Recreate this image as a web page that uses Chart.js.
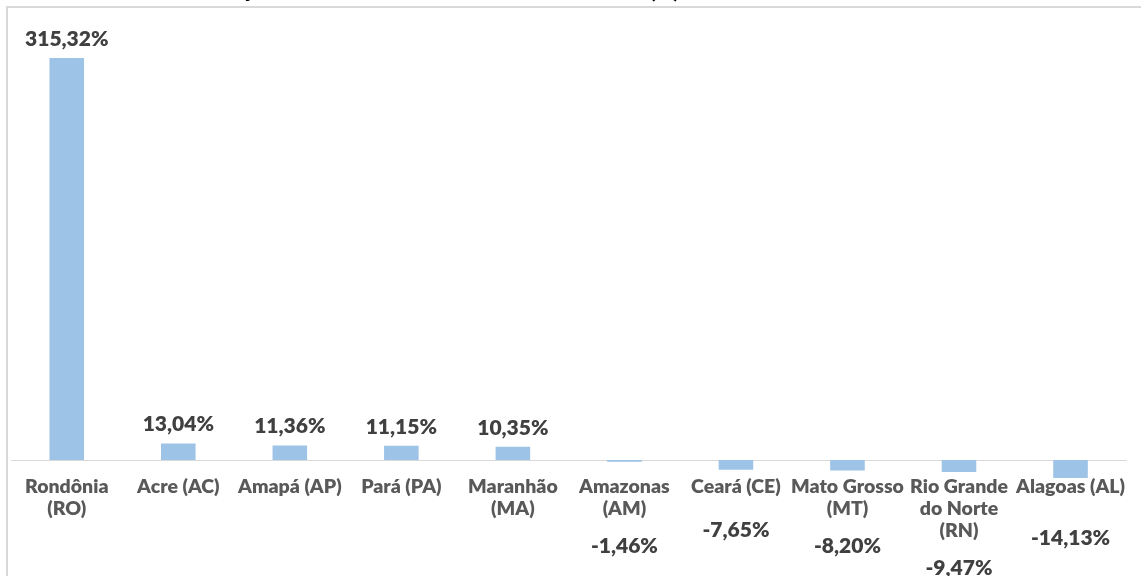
<!DOCTYPE html>
<html>
<head>
<meta charset="utf-8">
<script src="https://cdn.jsdelivr.net/npm/chart.js@4.4.1/dist/chart.umd.min.js"></script>
<style>
  html, body { margin: 0; padding: 0; background: #ffffff; overflow: hidden; }
  #wrap { position: relative; width: 1141px; height: 576px; }
</style>
</head>
<body>
<div id="wrap"><canvas id="c" width="1141" height="576"></canvas></div>
<script>
// Categories (multi-line tick labels), one entry per state
const categories = [
  ["Rondônia", "(RO)"],
  ["Acre (AC)"],
  ["Amapá (AP)"],
  ["Pará (PA)"],
  ["Maranhão", "(MA)"],
  ["Amazonas", "(AM)"],
  ["Ceará (CE)"],
  ["Mato Grosso", "(MT)"],
  ["Rio Grande", "do Norte", "(RN)"],
  ["Alagoas (AL)"]
];

// Percentage variation per state
const variation = [315.32, 13.04, 11.36, 11.15, 10.35, -1.46, -7.65, -8.20, -9.47, -14.13];

const titleText = "Variação do número de casos novos nos estados (%)";

const BAR_COLOR = "#9dc3e6";
const VALUE_COLOR = "#404040";
const LABEL_COLOR = "#595959";
const FRAME_COLOR = "#d9d9d9";
const FONT = "Lato";
const WEIGHT = "800";

const LABEL_LINE = 22;     // line height of category labels
const LABEL_FIRST = 27;    // distance from zero line to first label line centre

function fmt(v) {
  return v.toFixed(2).replace(".", ",") + "%";
}

// White background, outer frame and the title running off the top edge
const framePlugin = {
  id: "frame",
  beforeDraw(chart) {
    const ctx = chart.ctx;
    ctx.save();
    ctx.fillStyle = "#ffffff";
    ctx.fillRect(0, 0, chart.width, chart.height);
    ctx.strokeStyle = FRAME_COLOR;
    ctx.lineWidth = 2;
    ctx.beginPath();
    ctx.moveTo(7, chart.height + 2);
    ctx.lineTo(7, 7);
    ctx.lineTo(chart.width + 2, 7);
    ctx.stroke();

    ctx.font = WEIGHT + " 21px " + FONT;
    ctx.fillStyle = "#000000";
    ctx.textBaseline = "alphabetic";
    ctx.textAlign = "left";
    const pre = ctx.measureText("Varia").width;
    const ced = ctx.measureText("ç").width;
    ctx.fillText(titleText, 247 - pre - ced / 2, -2.5);
    ctx.restore();
  }
};

// Value labels: above positive bars, below the category text for negative ones
const valuePlugin = {
  id: "values",
  afterDatasetsDraw(chart) {
    const ctx = chart.ctx;
    const meta = chart.getDatasetMeta(0);
    const zero = chart.scales.y.getPixelForValue(0);
    ctx.save();
    ctx.font = WEIGHT + " 21px " + FONT;
    ctx.fillStyle = VALUE_COLOR;
    ctx.textAlign = "center";
    ctx.textBaseline = "middle";
    meta.data.forEach((bar, i) => {
      const v = variation[i];
      let y;
      if (v >= 0) {
        y = bar.y - 19;
      } else {
        const lines = categories[i].length;
        const textBottom = zero + LABEL_FIRST + (lines - 1) * LABEL_LINE + LABEL_LINE / 2;
        y = Math.max(textBottom + 26, bar.y + 60);
      }
      ctx.fillText(fmt(v), bar.x, y);
    });
    ctx.restore();
  }
};

function draw() {
  new Chart(document.getElementById("c"), {
    type: "bar",
    data: {
      labels: categories,
      datasets: [{
        data: variation,
        backgroundColor: BAR_COLOR,
        borderWidth: 0,
        barPercentage: 0.31,
        categoryPercentage: 1.0
      }]
    },
    options: {
      responsive: false,
      animation: false,
      devicePixelRatio: 1,
      layout: { padding: { left: 11, right: 0, top: 39.3, bottom: 90.5 } },
      plugins: {
        legend: { display: false },
        title: { display: false },
        tooltip: { enabled: false }
      },
      scales: {
        x: {
          position: { y: 0 },
          grid: { display: false, drawTicks: false },
          border: { display: true, color: FRAME_COLOR, width: 1 },
          ticks: {
            autoSkip: false,
            maxRotation: 0,
            minRotation: 0,
            padding: 16,
            color: LABEL_COLOR,
            font: { family: FONT, weight: WEIGHT, size: 19.5, lineHeight: LABEL_LINE + "px" }
          }
        },
        y: {
          display: false,
          min: -20,
          max: 330
        }
      }
    },
    plugins: [framePlugin, valuePlugin]
  });
}

if (document.fonts && document.fonts.load) {
  Promise.all([
    document.fonts.load(WEIGHT + " 21px " + FONT),
    document.fonts.load(WEIGHT + " 19.5px " + FONT)
  ]).then(draw, draw);
} else {
  draw();
}
</script>
</body>
</html>
